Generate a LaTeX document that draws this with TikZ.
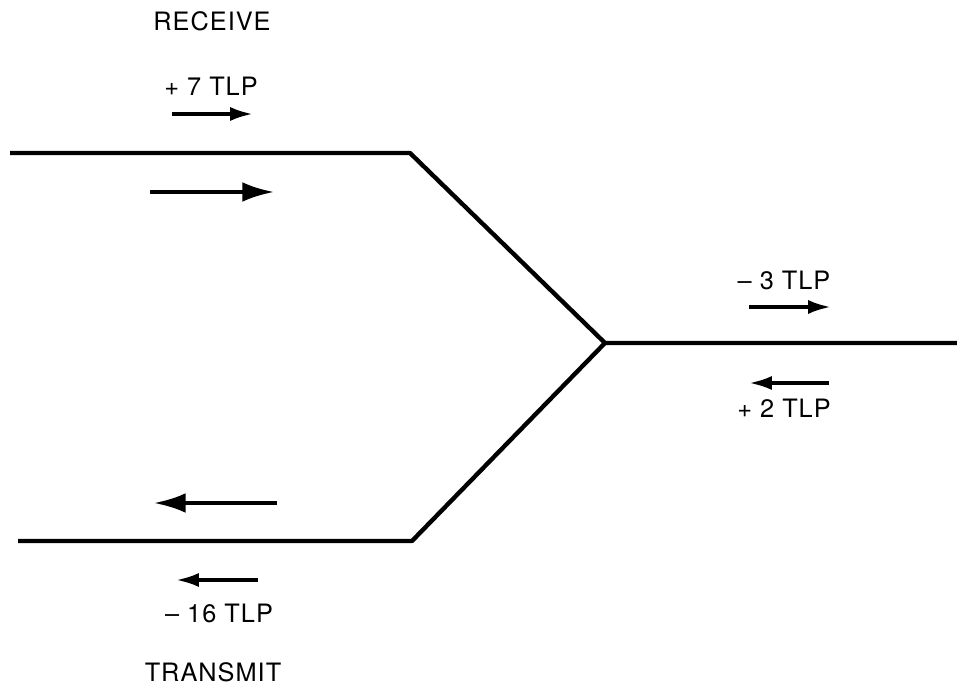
\documentclass[tikz,border=0pt]{standalone}
\usepackage{fontspec}
\setmainfont{TeX Gyre Heros}[LetterSpace=4]
\usetikzlibrary{arrows.meta}
\usetikzlibrary{positioning}

\begin{document}
\begin{tikzpicture}[
  x=0.01cm, y=-0.01cm,
  wire/.style={draw, line width=1.25pt, line join=round},
  lbl/.style={font=\fontsize{7.2}{8}\selectfont, inner sep=0pt},
  small arrow/.style={draw, line width=1.05pt, -{Latex[length=6.5pt,width=4pt]}},
  big arrow/.style={draw, line width=1.1pt, -{Latex[length=9pt,width=5.6pt]}}
]
\useasboundingbox (0,0) rectangle (957,685);

% hybrid wiring
\coordinate (rxend) at (10,153);
\coordinate (rxbend) at (410,153);
\coordinate (hub) at (605,343);
\coordinate (txbend) at (412,541);
\coordinate (txend) at (18,541);
\coordinate (lineend) at (957,343);

\draw[wire] (rxend) -- (rxbend) -- (hub) -- (lineend);
\draw[wire] (txend) -- (txbend) -- (hub);

% receive side
\node[lbl] (receive) at (212,21) {RECEIVE};
\node[lbl] (rxlevel) at (211,86) {+ 7 TLP};
\coordinate (rxa) at (172,114);
\coordinate (rxb) at (253,114);
\draw[small arrow] (rxa) -- (rxb);
\coordinate (rxc) at (150,192);
\coordinate (rxd) at (274,192);
\draw[big arrow] (rxc) -- (rxd);

% line side
\node[lbl] (outlevel) at (784,280) {\textendash\ 3 TLP};
\coordinate (la) at (749,307);
\coordinate (lb) at (831,307);
\draw[small arrow] (la) -- (lb);
\coordinate (lc) at (829,383);
\coordinate (ld) at (749,383);
\draw[small arrow] (lc) -- (ld);
\node[lbl] (inlevel) at (784,408) {+ 2 TLP};

% transmit side
\coordinate (txa) at (277,503);
\coordinate (txb) at (154,503);
\draw[big arrow] (txa) -- (txb);
\coordinate (txc) at (258,580);
\coordinate (txd) at (176,580);
\draw[small arrow] (txc) -- (txd);
\node[lbl] (txlevel) at (219,613) {\textendash\ 16 TLP};
\node[lbl] (transmit) at (213,672) {TRANSMIT};
\end{tikzpicture}
\end{document}
